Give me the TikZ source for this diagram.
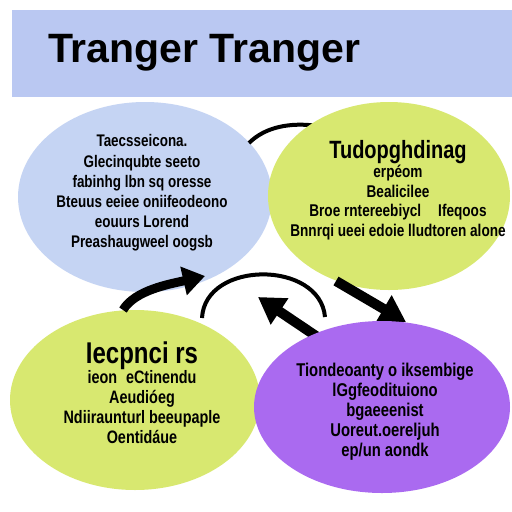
\documentclass[tikz,border=0pt]{standalone}
\usepackage{fontspec}
\setmainfont{Liberation Sans}
\newfontfamily\bodyfont[FakeStretch=0.8]{Liberation Sans}
\usetikzlibrary{shapes.geometric,arrows.meta}
\definecolor{bannerc}{RGB}{186,200,242}
\definecolor{bluec}{RGB}{197,212,243}
\definecolor{limec}{RGB}{216,232,112}
\definecolor{purplec}{RGB}{170,106,240}
\begin{document}
\begin{tikzpicture}[x=1pt,y=-1pt,
  blob/.style={ellipse,draw=none,inner sep=0pt},
  body/.style={align=center,inner sep=0pt,text=black,font=\bodyfont\bfseries},
  thinarc/.style={line width=4pt,draw=black},
  bigarrow/.style={line width=10pt,draw=black,-{Triangle[length=26pt,width=30pt]}}]
\useasboundingbox (0,0) rectangle (512,512);
\fill[white] (0,0) rectangle (512,512);
% banner
\node[fill=bannerc,minimum width=500pt,minimum height=87pt,inner sep=0pt,anchor=north west] (banner) at (12,10) {};
\node[anchor=base west,inner sep=0pt,font=\fontsize{41}{41}\selectfont\bfseries] (title) at (48,62) {Tranger Tranger};
% top-left ellipse
\node[blob,fill=bluec,minimum width=254pt,minimum height=190pt] (e1) at (145,197) {};
% top thin arc (behind the top-right ellipse)
\coordinate (a1s) at (249,143);
\coordinate (a1e) at (318,126);
\draw[thinarc] (a1s) .. controls (265,127) and (290,122) .. (a1e);
% top-right ellipse
\node[blob,fill=limec,minimum width=242pt,minimum height=188pt] (e2) at (389,196) {};
% arrow down-right (head partly behind purple)
\coordinate (a5s) at (336,281);
\coordinate (a5e) at (406,322);
\draw[bigarrow] (a5s) -- (a5e);
% bottom-left ellipse
\node[blob,fill=limec,minimum width=250pt,minimum height=180pt] (e3) at (135,400) {};
% curved arrow from bottom-left up to top-left
\coordinate (a2s) at (123,310);
\coordinate (a2e) at (205,276);
\draw[line width=9pt,draw=black,-{Triangle[length=22pt,width=28pt]}] (a2s) .. controls (135,290) and (170,284) .. (a2e);
% middle thin arc
\coordinate (a3s) at (202,318);
\coordinate (a3e) at (325,317);
\draw[thinarc] (a3s) .. controls (205,260) and (320,260) .. (a3e);
% arrow up-left
\coordinate (a4s) at (322,340);
\coordinate (a4e) at (258,297);
\draw[bigarrow] (a4s) -- (a4e);
% purple ellipse
\node[blob,fill=purplec,minimum width=256pt,minimum height=172pt] (e4) at (382,407) {};
% texts
\node[body,font=\bodyfont\bfseries\fontsize{16.8}{20.2}\selectfont] (t1) at (142,193)
 {Taecsseicona.\\Glecinqubte seeto\\fabinhg lbn sq oresse\\Bteuus eeiee oniifeodeono\\eouurs Lorend\\Preashaugweel oogsb};
\node[body,font=\bodyfont\bfseries\fontsize{17}{19.5}\selectfont] (t2) at (398,190)
 {{\fontsize{25}{20}\selectfont Tudopghdinag}\\erpéom\\Bealicilee\\Broe rntereebiycl\quad Ifeqoos\\Bnnrqi ueei edoie lludtoren alone};
\node[body,font=\bodyfont\bfseries\fontsize{18}{20}\selectfont] (t3) at (142,393)
 {{\fontsize{30}{24}\selectfont Iecpnci rs}\\ieon\enspace eCtinendu\\Aeudióeg\\Ndiiraunturl beeupaple\\Oentidáue};
\node[body,font=\bodyfont\bfseries\fontsize{18.5}{20}\selectfont] (t4) at (385,412)
 {Tiondeoanty o iksembige\\lGgfeodituiono\\bgaeeenist\\Uoreut.oereljuh\\ep/un aondk};
\end{tikzpicture}
\end{document}
